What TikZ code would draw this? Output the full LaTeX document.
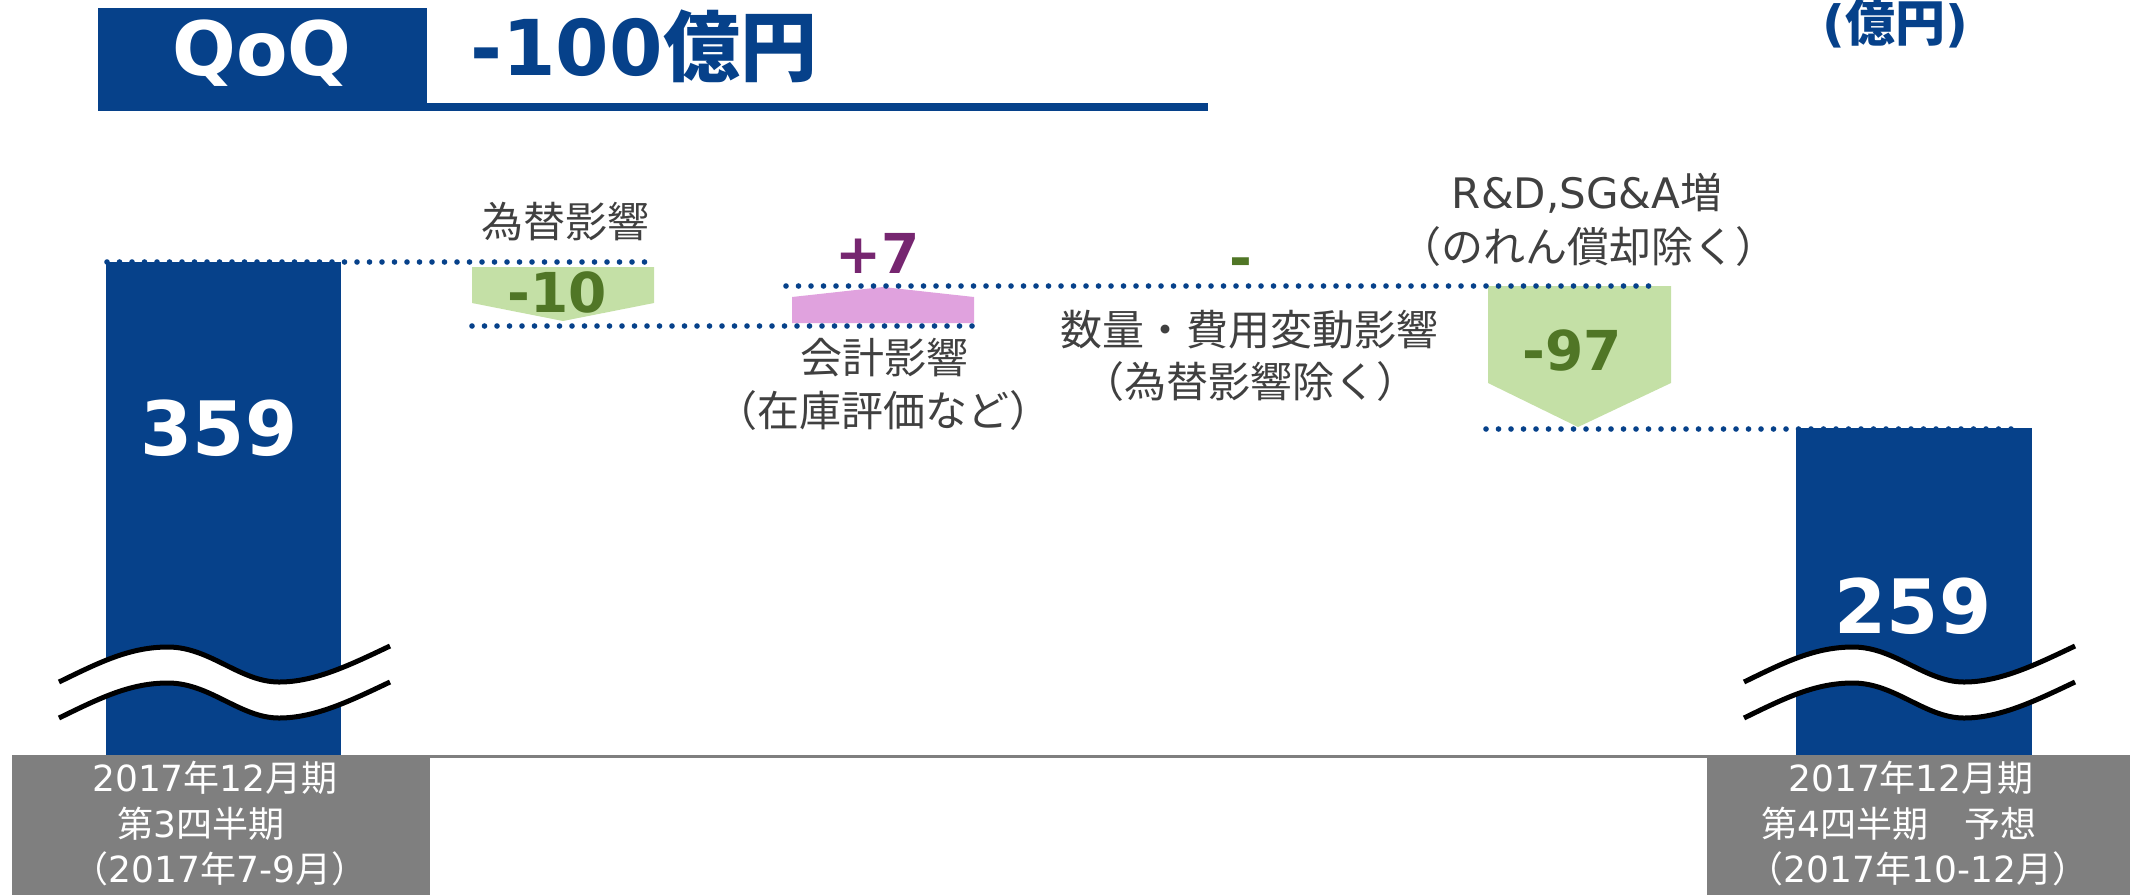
\documentclass[tikz,border=0pt]{standalone}
\usepackage{fontspec}
\setmainfont{DejaVu Sans}
\newfontfamily\jp{Noto Sans CJK JP}
\newcommand{\J}[1]{{\jp #1}}
\usepackage{tikz}

\begin{document}
\begin{tikzpicture}[x=0.5pt,y=0.5pt,yscale=-1,xscale=1,
  navy/.style={fill={rgb, 255:red, 6; green, 65; blue, 138 }},
  dotline/.style={draw={rgb, 255:red, 6; green, 65; blue, 138 },line width=2.8pt,line cap=round,dash pattern=on 0pt off 6.25pt},
  downbox/.style={fill={rgb, 255:red, 196; green, 224; blue, 166 }},
  upbox/.style={fill={rgb, 255:red, 224; green, 162; blue, 222 }},
  greybox/.style={fill={rgb, 255:red, 127; green, 127; blue, 127 }},
  brk/.style={draw=black,line width=2.5pt},
  note/.style={inner sep=0pt,color={rgb, 255:red, 64; green, 64; blue, 64 },font=\jp\fontsize{21}{25}\selectfont},
  delta/.style={inner sep=0pt,font=\bfseries\fontsize{27.5}{30}\selectfont},
  total/.style={inner sep=0pt,color=white,font=\bfseries\fontsize{37.5}{40}\selectfont},
  period/.style={inner sep=0pt,color=white,font=\fontsize{18}{22}\selectfont}
]
\useasboundingbox (0,0) rectangle (2134,895);

%Shape: Rectangle (title box)
\fill[navy] (98,8) rectangle (427,103);
%Shape: Rectangle (title rule)
\fill[navy] (98,103) rectangle (1208,111);

%Straight Lines (axis)
\draw [color={rgb, 255:red, 127; green, 127; blue, 127 },line width=1.5pt] (12,756) -- (2130,756);

%Shape: Rectangle (bars)
\fill[navy] (106,262) rectangle (341,756);
\fill[navy] (1796,428) rectangle (2032,756);

%Shape: Rectangle (period boxes)
\fill[greybox] (12,755) rectangle (430,895);
\fill[greybox] (1707,755) rectangle (2130,895);

%Shape: Pentagons
\fill[downbox] (472,267) -- (654,267) -- (654,303) -- (563,321) -- (472,303) -- cycle;
\fill[upbox] (792,323) -- (792,297) -- (883,287) -- (974,297) -- (974,323) -- cycle;
\fill[downbox] (1488,286) -- (1671,286) -- (1671,383) -- (1578,427) -- (1488,383) -- cycle;

%Dotted Lines
\draw[dotline] (107,262) -- (650,262);
\draw[dotline] (472,326) -- (972,326);
\draw[dotline] (786,286) -- (1659,286);
\draw[dotline] (1486,429) -- (2012,429);

%Curve Lines (left break)
\fill[white] (59,682) .. controls (100,662) and (130,647) .. (168,647) .. controls (210,647) and (240,682) .. (279,682) .. controls (315,682) and (350,665) .. (390,646) -- (390,682) .. controls (350,701) and (315,718) .. (279,718) .. controls (240,718) and (210,683) .. (168,683) .. controls (130,683) and (100,698) .. (59,718) -- cycle;
\draw[brk] (59,682) .. controls (100,662) and (130,647) .. (168,647) .. controls (210,647) and (240,682) .. (279,682) .. controls (315,682) and (350,665) .. (390,646);
\draw[brk] (59,718) .. controls (100,698) and (130,683) .. (168,683) .. controls (210,683) and (240,718) .. (279,718) .. controls (315,718) and (350,701) .. (390,682);
%Curve Lines (right break)
\fill[white] (1744,682) .. controls (1785,662) and (1815,647) .. (1853,647) .. controls (1895,647) and (1925,682) .. (1964,682) .. controls (2000,682) and (2035,665) .. (2075,646) -- (2075,682) .. controls (2035,701) and (2000,718) .. (1964,718) .. controls (1925,718) and (1895,683) .. (1853,683) .. controls (1815,683) and (1785,698) .. (1744,718) -- cycle;
\draw[brk] (1744,682) .. controls (1785,662) and (1815,647) .. (1853,647) .. controls (1895,647) and (1925,682) .. (1964,682) .. controls (2000,682) and (2035,665) .. (2075,646);
\draw[brk] (1744,718) .. controls (1785,698) and (1815,683) .. (1853,683) .. controls (1895,683) and (1925,718) .. (1964,718) .. controls (2000,718) and (2035,701) .. (2075,682);

% Text Node
\node (qoq) [anchor=base,inner sep=0pt,color=white,font=\bfseries\fontsize{37.5}{40}\selectfont] at (262,75) {QoQ};
% Text Node
\node (diff) [anchor=base west,inner sep=0pt,color={rgb, 255:red, 6; green, 65; blue, 138 },font=\bfseries\fontsize{38.5}{42}\selectfont] at (470,75) {-100\J{億円}};
% Text Node
\node (unit) [anchor=base,inner sep=0pt,color={rgb, 255:red, 6; green, 65; blue, 138 },font=\bfseries\fontsize{25}{28}\selectfont] at (1895,41) {(\J{億円})};

% Text Node
\node (v359) [total,anchor=base] at (219,455) {359};
% Text Node
\node (v259) [total,anchor=base] at (1913,633) {259};

% Text Node
\node (fx) [delta,anchor=base,color={rgb, 255:red, 80; green, 118; blue, 38 }] at (557,312) {-10};
% Text Node
\node (acc) [delta,anchor=base,color={rgb, 255:red, 118; green, 38; blue, 112 }] at (878,273) {+7};
% Text Node
\node (vol) [delta,anchor=base,color={rgb, 255:red, 80; green, 118; blue, 38 }] at (1241,277) {-};
% Text Node
\node (rnd) [delta,anchor=base,color={rgb, 255:red, 80; green, 118; blue, 38 }] at (1572,370) {-97};

% Text Node
\node (fxlbl) [note] at (565,222) {為替影響};
% Text Node
\node (acclbl) [note] at (884,358) {会計影響};
\node (acclbl2) [note] at (883,411) {（在庫評価など）};
% Text Node
\node (vollbl) [note] at (1249,330) {数量・費用変動影響};
\node (vollbl2) [note] at (1250,382) {（為替影響除く）};
% Text Node
\node (rndlbl) [note,anchor=base] at (1587,208) {{\rmfamily R\&D,SG\&A}増};
\node (rndlbl2) [note] at (1588,247) {（のれん償却除く）};

% Text Node
\node (q3a) [period] at (215,778) {2017\J{年}12\J{月期}};
\node (q3b) [period] at (201,824) {\J{第}3\J{四半期}};
\node (q3c) [period] at (220,869) {\J{（}2017\J{年}7-9\J{月）}};
% Text Node
\node (q4a) [period] at (1911,778) {2017\J{年}12\J{月期}};
\node (q4b) [period] at (1899,824) {\J{第}4\J{四半期　予想}};
\node (q4c) [period] at (1918,869) {\J{（}2017\J{年}10-12\J{月）}};

\end{tikzpicture}
\end{document}
